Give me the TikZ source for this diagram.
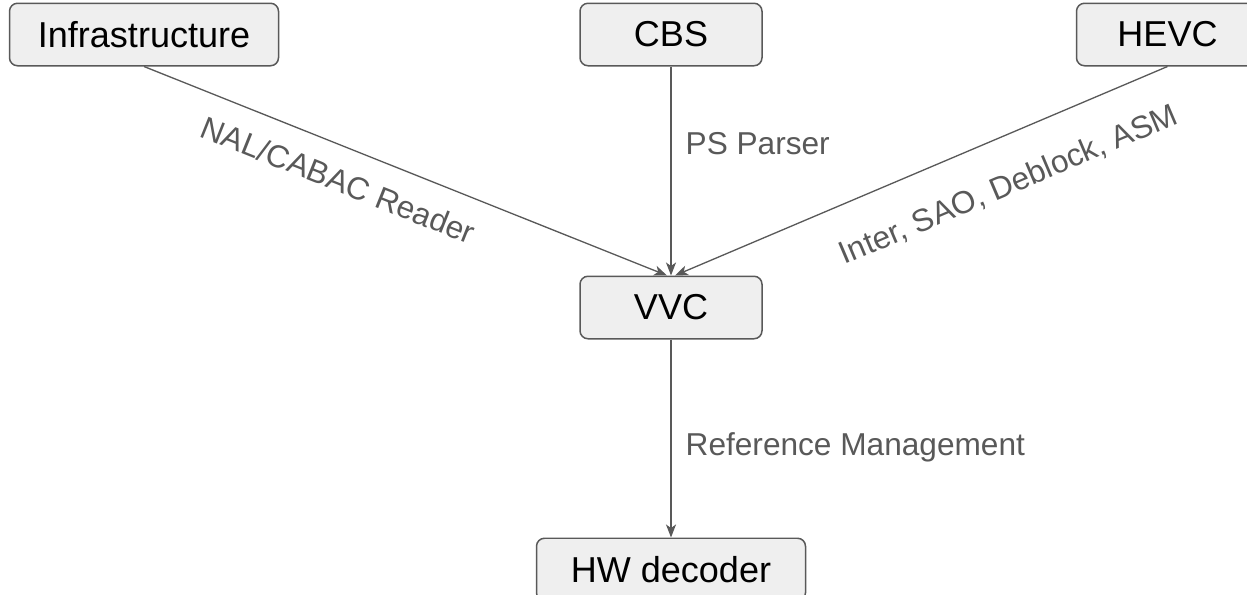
\documentclass[tikz,border=0pt]{standalone}
\usepackage{fontspec}
\setmainfont{Liberation Sans}
\usepackage{xcolor}
\usetikzlibrary{shapes,arrows,arrows.meta,positioning}

\definecolor{boxgray}{HTML}{EFEFEF}
\definecolor{linegray}{HTML}{595959}

\begin{document}
\begin{tikzpicture}[node distance=1cm,
    block/.style={draw=linegray, fill=boxgray, rounded corners=0.16cm, line width=0.85pt, minimum height=1.25cm, inner sep=0pt, font=\fontsize{20.5}{24}\selectfont},
    flow/.style={-{Stealth[length=0.26cm, width=0.2cm, inset=0.07cm]}, draw=linegray, line width=0.75pt},
    lbl/.style={text=linegray, inner sep=0pt, font=\fontsize{18}{21}\selectfont}]
    \useasboundingbox (0,0) rectangle (24.94,-11.88);

    \node[block, minimum width=3.64cm] (cbs) at (13.42,-0.69) {CBS};
    \node[block, minimum width=5.38cm, left=6cm of cbs] (infra) {Infrastructure};
    \node[block, minimum width=3.64cm, right=6.26cm of cbs] (hevc) {HEVC};
    \node[block, minimum width=3.64cm, below=4.18cm of cbs] (vvc) {VVC};
    \node[block, minimum width=5.38cm, below=3.96cm of vvc] (hw) {HW decoder};

    \draw[flow] (infra.south) -- node[lbl, pos=0.395, sloped, below=0.42cm] {NAL/CABAC Reader} ([xshift=-0.08cm]vvc.north);
    \draw[flow] (cbs) -- node[lbl, pos=0.37, right=0.28cm] {PS Parser} (vvc);
    \draw[flow] (hevc.south) -- node[lbl, pos=0.36, sloped, below=0.66cm] {Inter, SAO, Deblock, ASM} ([xshift=0.08cm]vvc.north);
    \draw[flow] (vvc) -- node[lbl, pos=0.545, right=0.28cm] {Reference Management} (hw);
\end{tikzpicture}
\end{document}
